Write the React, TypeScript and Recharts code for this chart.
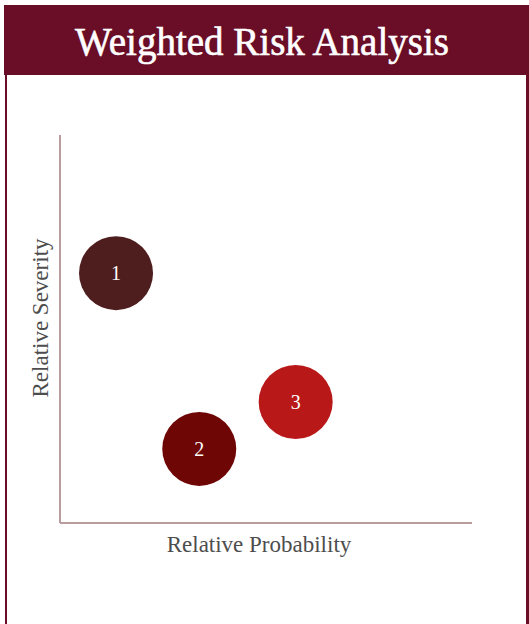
import React from 'react';
import { ScatterChart, Scatter, XAxis, YAxis, Cell, Label } from 'recharts';

const riskIds = ['1', '2', '3'];
const probability = [1.36, 3.38, 5.72];
const severity = [6.44, 1.91, 3.12];
const riskColors = ['#4e1d1d', '#6e0606', '#b81818'];

const data = riskIds.map((id, i) => ({ id, x: probability[i], y: severity[i] }));

const Bubble = (props: any) => {
  const { cx, cy, fill, payload } = props;
  if (cx == null || cy == null) return null;
  return (
    <g>
      <circle cx={cx} cy={cy} r={37} fill={fill} />
      <text x={cx} y={cy} dy={7} textAnchor="middle" fill="#ffffff" fontSize={20} fontFamily="'Liberation Serif', serif">
        {payload.id}
      </text>
    </g>
  );
};

export default function App() {
  return (
    <div style={{ position: 'absolute', left: 0, top: 0, width: 529, height: 624, background: '#ffffff', overflow: 'hidden' }}>
      <div style={{ position: 'absolute', left: 5, top: 75, width: 524, height: 560, borderLeft: '2px solid #6a0e27', borderRight: '3px solid #6a0e27', boxSizing: 'border-box' }} />
      <div style={{ position: 'absolute', left: 4, top: 5, width: 525, height: 70, background: '#6a0e27', color: '#ffffff', fontFamily: "'Liberation Serif', serif", fontSize: 39, lineHeight: '74px', textAlign: 'center', paddingRight: 9, boxSizing: 'border-box', WebkitTextStroke: '0.6px #ffffff', overflow: 'hidden' }}>
        Weighted Risk Analysis
      </div>
      <div style={{ position: 'absolute', left: 0, top: 0 }}>
        <ScatterChart width={529} height={624} margin={{ top: 135, right: 57, bottom: 0, left: 0 }}>
          <XAxis type="number" dataKey="x" domain={[0, 10]} tick={false} tickLine={false} height={101} axisLine={{ stroke: '#b89c9e', strokeWidth: 2 }}>
            <Label value="Relative Probability" position="insideTop" offset={13} dx={-7} style={{ fill: '#4d4d4d', fontSize: 23, fontFamily: "'Liberation Serif', serif" }} />
          </XAxis>
          <YAxis type="number" dataKey="y" domain={[0, 10]} tick={false} tickLine={false} width={60} axisLine={{ stroke: '#b89c9e', strokeWidth: 2 }}>
            <Label value="Relative Severity" angle={-90} position="insideRight" offset={20} dy={-11} style={{ fill: '#4d4d4d', fontSize: 23, fontFamily: "'Liberation Serif', serif", textAnchor: 'middle' }} />
          </YAxis>
          <Scatter data={data} isAnimationActive={false} shape={<Bubble />}>
            {data.map((d, i) => (
              <Cell key={d.id} fill={riskColors[i]} />
            ))}
          </Scatter>
        </ScatterChart>
      </div>
    </div>
  );
}
